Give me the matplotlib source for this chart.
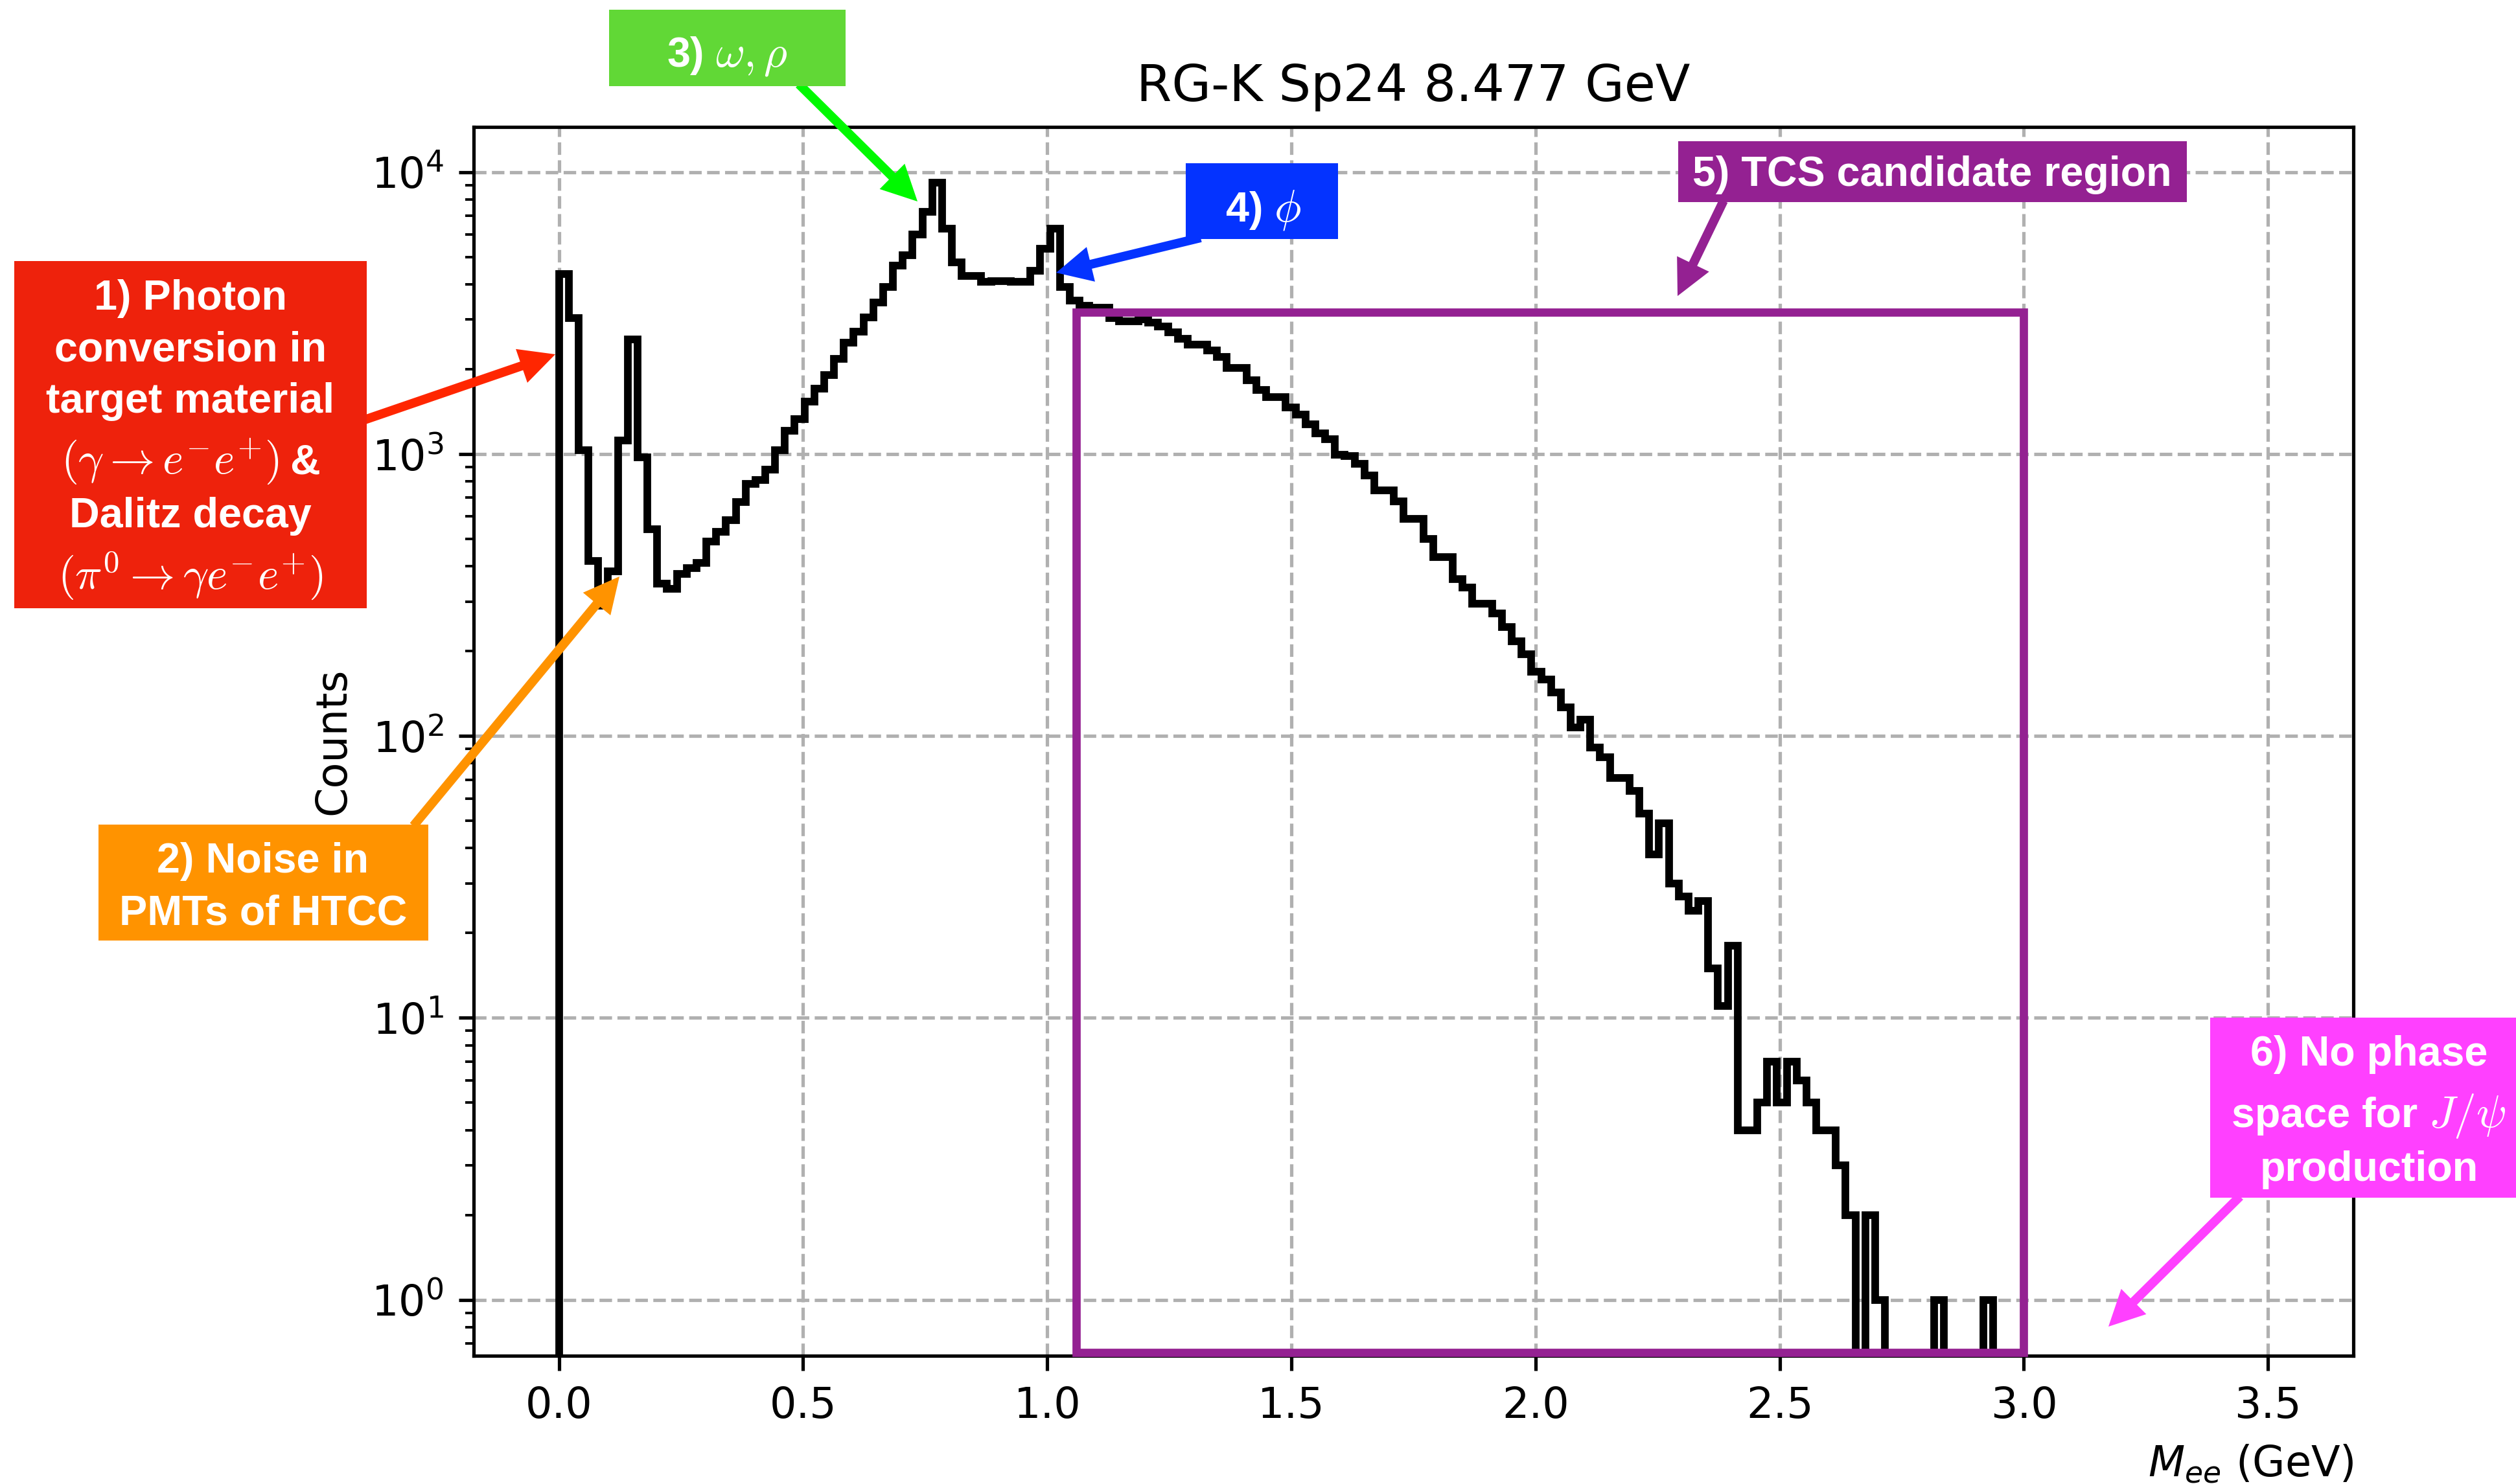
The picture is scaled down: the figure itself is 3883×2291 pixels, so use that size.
import numpy as np
import matplotlib
matplotlib.use('Agg')
import matplotlib.pyplot as plt
from matplotlib.patches import Rectangle, FancyArrow

# invariant mass histogram, e+e- pairs, RG-K spring 2024 at 8.477 GeV
edges = np.linspace(0, 3.5, 175)
counts = np.array([
    4340, 3030, 1030, 418, 290, 383, 1117, 2547, 971, 540,
    347, 333, 376, 393, 411, 490, 530, 583, 677, 783,
    807, 881, 1032, 1209, 1331, 1531, 1702, 1907, 2175, 2483,
    2710, 3050, 3450, 3924, 4650, 5060, 6000, 7240, 9180, 6300,
    4790, 4275, 4275, 4075, 4100, 4110, 4075, 4075, 4460, 5360,
    6300, 3924, 3500, 3350, 3310, 3310, 3030, 2950, 2950, 3000,
    2930, 2830, 2700, 2570, 2450, 2450, 2335, 2215, 2025, 2025,
    1830, 1690, 1595, 1595, 1460, 1380, 1275, 1183, 1127, 996,
    985, 925, 840, 742, 742, 680, 589, 589, 501, 430,
    430, 361, 337, 294, 294, 272, 243, 217, 195, 169,
    159, 143, 126, 107, 114, 91, 84, 71, 71, 64,
    53, 38, 49, 30, 27, 24, 26, 15, 11, 18,
    4, 4, 5, 7, 5, 7, 6, 5, 4, 4,
    3, 2, 0, 2, 1, 0, 0, 0, 0, 0,
    1, 0, 0, 0, 0, 1, 0, 0, 0, 0,
] + [0] * 24, dtype=float)

title = 'RG-K Sp24 8.477 GeV'
xlabel = r'$M_{ee}$ (GeV)'
ylabel = 'Counts'

# candidate region for TCS (GeV, counts)
tcs_mass = (1.06, 3.0)
tcs_counts = (0.65, 3180)

# everything was drawn with the default style and blown up by S
S = 1.88
plt.rcParams.update({
    'font.size': 10 * S,
    'axes.linewidth': 0.8 * S,
    'axes.titlepad': 6 * S,
    'axes.labelpad': 4 * S,
    'xtick.major.size': 3.5 * S, 'ytick.major.size': 3.5 * S,
    'xtick.minor.size': 2 * S, 'ytick.minor.size': 2 * S,
    'xtick.major.width': 0.8 * S, 'ytick.major.width': 0.8 * S,
    'xtick.minor.width': 0.6 * S, 'ytick.minor.width': 0.6 * S,
    'xtick.major.pad': 3.5 * S, 'ytick.major.pad': 3.5 * S,
    'grid.linewidth': 0.8 * S,
})

W, H = 3883, 2291
DPI = 250
fig = plt.figure(figsize=(W / DPI, H / DPI), dpi=DPI, facecolor='w')
ax = fig.add_axes([0.1882, 0.0865, 0.7472, 0.8281])

ax.stairs(counts, edges, color='k', lw=3.4, zorder=2.5)
ax.set_yscale('log')

# same limits the autoscaler would pick (5% margins, log space for y)
pos = counts[counts > 0]
lo, hi = np.log10(pos.min()), np.log10(pos.max())
m = 0.05 * (hi - lo)
ax.set_ylim(10 ** (lo - m), 10 ** (hi + m))
xm = 0.05 * (edges[-1] - edges[0])
ax.set_xlim(edges[0] - xm, edges[-1] + xm)

ax.grid(True, which='major', ls='--', color='#b0b0b0')
ax.set_title(title)
ax.set_xlabel(xlabel, loc='right')
ax.set_ylabel(ylabel)

ax.add_patch(Rectangle((tcs_mass[0], tcs_counts[0]), tcs_mass[1] - tcs_mass[0],
                       tcs_counts[1] - tcs_counts[0], fill=False,
                       ec='#942192', lw=3.66, clip_on=False, zorder=5))

# overlay in pixel units for the callout boxes and arrows
ov = fig.add_axes([0, 0, 1, 1], zorder=10)
ov.set_xlim(0, W)
ov.set_ylim(H, 0)
ov.axis('off')
renderer = fig.canvas.get_renderer()

FS = 18.6   # callout text
FM = 20.0   # formulas inside callouts

def arrow(tail, tip, col):
    ov.add_patch(FancyArrow(tail[0], tail[1], tip[0] - tail[0], tip[1] - tail[1],
                            width=14, head_width=55, head_length=55,
                            length_includes_head=True, color=col, lw=0, zorder=1))

def box(x0, y0, x1, y1, col):
    ov.add_patch(Rectangle((x0, y0), x1 - x0, y1 - y0, color=col, lw=0, zorder=2))

def line(xc, yb, pieces, gap=17):
    # pieces of one centred line, text and formulas at their own sizes
    if isinstance(pieces, str):
        pieces = [(pieces, FS)]
    ts = [ov.text(0, yb, s, ha='left', va='baseline', color='w', fontsize=fs,
                  family='Liberation Sans', fontweight='bold', math_fontfamily='cm',
                  zorder=3) for s, fs in pieces]
    ws = [t.get_window_extent(renderer).width for t in ts]
    x = xc - (sum(ws) + gap * (len(ts) - 1)) / 2
    for t, w in zip(ts, ws):
        t.set_x(x)
        x += w + gap

# 1) photon conversion / Dalitz
arrow((560, 649), (857, 547), '#FF2600')
box(22, 403, 566, 939, '#EE220C')
line(294, 478, '1) Photon')
line(294, 557, 'conversion in')
line(294, 637, 'target material')
line(294, 731, [(r'$(\gamma \rightarrow e^{-}e^{+})$', FM), ('&', FS)])
line(294, 814, 'Dalitz decay')
line(294, 910, [(r'$(\pi^{0} \rightarrow \gamma e^{-}e^{+})$', FM)])

# 2) HTCC noise
arrow((638, 1275), (956, 890), '#FF9300')
box(152, 1273, 661, 1452, '#FF9300')
line(406, 1347, '2) Noise in')
line(406, 1427, 'PMTs of HTCC')

# 3) omega, rho
arrow((1233, 130), (1416, 311), '#00F900')
box(940, 15, 1305, 133, '#61D836')
line(1123, 103, [('3)', FS), (r'$\omega, \rho$', FM)])

# 4) phi
arrow((1853, 367), (1630, 421), '#0433FF')
box(1830, 252, 2065, 369, '#0433FF')
line(1950, 342, [('4)', FS), (r'$\phi$', FM)])

# 5) TCS candidate region
arrow((2660, 310), (2589, 457), '#942192')
box(2590, 218, 3375, 312, '#942192')
line(2982, 287, '5) TCS candidate region')

# 6) J/psi threshold
arrow((3457, 1847), (3254, 2048), '#FF40FF')
box(3411, 1571, W, 1849, '#FF40FF')
line(3656, 1645, '6) No phase')
line(3656, 1740, [('space for', FS), (r'$J/\psi$', FM)])
line(3656, 1823, 'production')

fig.savefig('out.png', dpi=DPI)
